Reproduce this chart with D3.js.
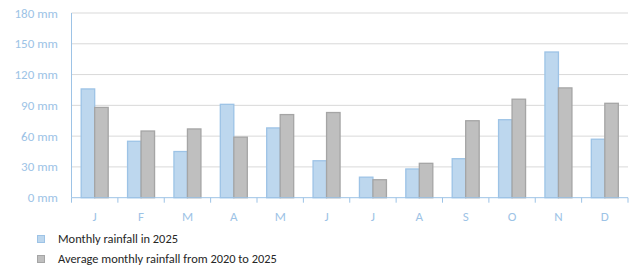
<!DOCTYPE html>
<html><head><meta charset="utf-8">
<script src="https://cdn.jsdelivr.net/npm/d3@7"></script>
<style>body{margin:0;background:#fff}svg{display:block}</style>
</head><body>
<svg id="c" width="637" height="269"></svg>
<script>
const months = ["J","F","M","A","M","J","J","A","S","O","N","D"];
const rain2025 = [106, 55, 45, 91, 68, 36, 20, 28, 38, 76, 142, 57];
const avg2020_2025 = [88, 65, 67, 59, 81, 83, 17.5, 33.5, 75, 96, 107, 92];
const yTicks = [0, 30, 60, 90, 120, 150, 180];
const seriesNames = ["Monthly rainfall in 2025", "Average monthly rainfall from 2020 to 2025"];

const svg = d3.select("#c");
const font = "Calibri, Carlito, 'Open Sans', sans-serif";
const L = 71.5, R = 628, T = 13, B = 197.7;
const idx = months.map((d, i) => i);
const x = d3.scaleBand().domain(idx).range([L, R]).paddingInner(0).paddingOuter(0);
const y = d3.scaleLinear().domain([0, 180]).range([B, T]);
const bw = 13.5;

// gridlines
svg.append("g").selectAll("line").data(yTicks.slice(1)).join("line")
  .attr("x1", L).attr("x2", R).attr("y1", d => y(d)).attr("y2", d => y(d))
  .attr("stroke", "#d9d9d9").attr("stroke-width", 1);

// y labels
svg.append("g").selectAll("text").data(yTicks).join("text")
  .attr("x", 58).attr("y", d => y(d)).attr("dy", "0.35em")
  .attr("text-anchor", "end").attr("font-family", font).attr("font-size", 13)
  .attr("fill", "#9dc3e6").text(d => d + " mm");

const series = [
  {vals: rain2025, fill: "#bdd7ee", stroke: "#9dc3e6", off: -bw},
  {vals: avg2020_2025, fill: "#bfbfbf", stroke: "#a5a5a5", off: 0}
];
series.forEach(s => {
  svg.append("g").selectAll("rect").data(s.vals).join("rect")
    .attr("x", (d, i) => x(i) + x.bandwidth() / 2 + s.off)
    .attr("y", d => y(d))
    .attr("width", bw)
    .attr("height", d => B - y(d))
    .attr("fill", s.fill).attr("stroke", s.stroke).attr("stroke-width", 1.3);
});

// axes lines
svg.append("line").attr("x1", L).attr("x2", L).attr("y1", T).attr("y2", B)
  .attr("stroke", "#9dc3e6").attr("stroke-width", 1);
svg.append("line").attr("x1", L).attr("x2", R).attr("y1", B).attr("y2", B)
  .attr("stroke", "#9dc3e6").attr("stroke-width", 1);
// x ticks
svg.append("g").selectAll("line").data(d3.range(13)).join("line")
  .attr("x1", i => L + i * x.bandwidth()).attr("x2", i => L + i * x.bandwidth())
  .attr("y1", B).attr("y2", B + 5).attr("stroke", "#9dc3e6");
// x labels
svg.append("g").selectAll("text").data(months).join("text")
  .attr("x", (d, i) => x(i) + x.bandwidth() / 2).attr("y", 216).attr("dy", "0.35em")
  .attr("text-anchor", "middle").attr("font-family", font).attr("font-size", 13)
  .attr("fill", "#9dc3e6").text(d => d);

// legend
const lg = svg.append("g");
seriesNames.forEach((n, i) => {
  const cy = 239 + i * 20;
  lg.append("rect").attr("x", 37.5).attr("y", cy - 3.5).attr("width", 7).attr("height", 7)
    .attr("fill", series[i].fill).attr("stroke", series[i].stroke).attr("stroke-width", 1);
  lg.append("text").attr("x", 58).attr("y", cy).attr("dy", "0.35em")
    .attr("font-family", font).attr("font-size", 12.4).attr("fill", "#262626").text(n);
});
</script>
</body></html>
